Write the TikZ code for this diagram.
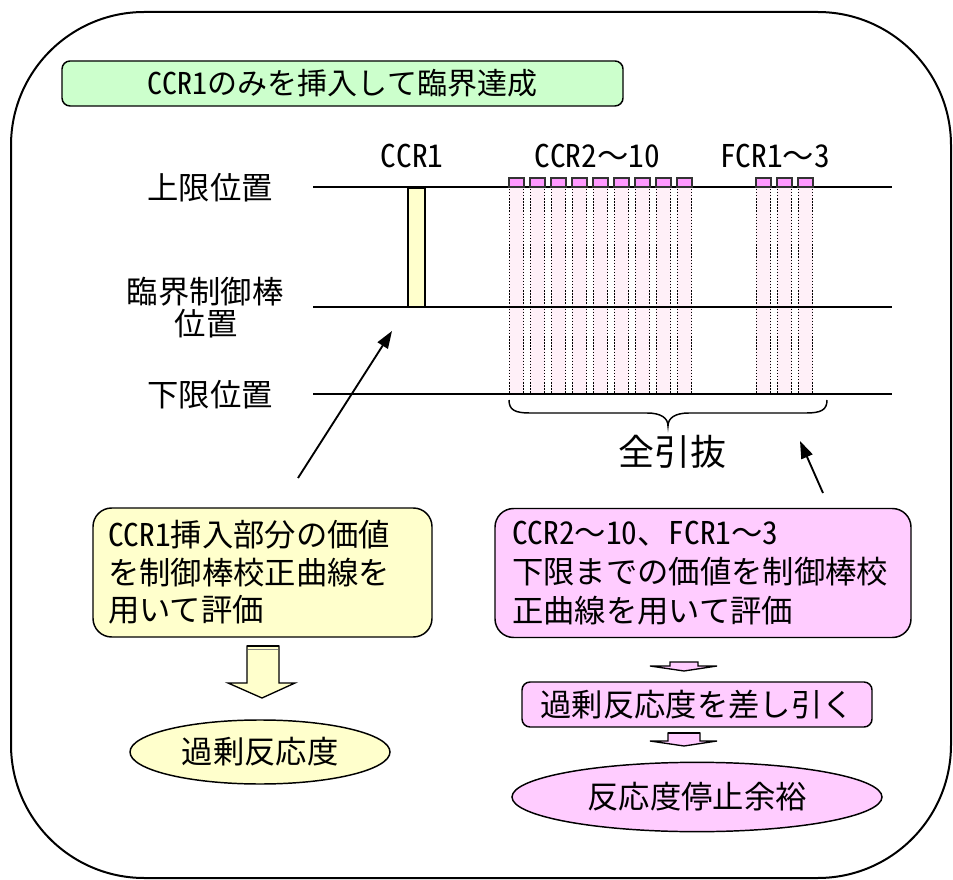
\documentclass[tikz,border=0pt]{standalone}
\usepackage{fontspec}
\setmainfont{Noto Sans CJK JP}
\newfontfamily\hwfont{Noto Sans CJK JP}[CharacterWidth=Half]
\newcommand\hwtxt[1]{{\hwfont #1}}
\usetikzlibrary{shapes.geometric,arrows.meta}
\definecolor{tgreen}{HTML}{CCFFCC}
\definecolor{lyellow}{HTML}{FFFFCC}
\definecolor{lpink}{HTML}{FFCCFF}
\definecolor{rodpink}{HTML}{FF99FF}
\definecolor{colpink}{HTML}{FFF0F8}
\tikzset{
  body/.style={font=\fontsize{23.5pt}{28pt}\selectfont},
  lbl/.style={body, inner sep=0pt},
  levelline/.style={line width=1.5pt},
  rbox/.style={draw=black, line width=1.1pt, rounded corners=14pt},
  ptr/.style={line width=1.4pt, -{Triangle[length=13pt,width=9pt]}},
  col/.style={fill=colpink, draw=none},
  dotln/.style={line width=1pt, dash pattern=on 1pt off 1.3pt},
  rodtop/.style={fill=rodpink, draw=black!80, line width=0.9pt},
  blockarrow/.style={draw=black, line width=1pt},
}
\begin{document}
\begin{tikzpicture}[x=0.75pt,y=-0.75pt]
\useasboundingbox (0,0) rectangle (953,880);
% outer frame
\draw[line width=1.5pt, rounded corners=100pt] (11,12) rectangle (951,878);

% title
\node[rbox, fill=tgreen, rounded corners=6pt, minimum width=420.75pt, minimum height=33.75pt,
      inner sep=0pt, font=\fontsize{22.5pt}{26pt}\selectfont] (title) at (342.5,83.5)
      {\hwtxt{CCR1}のみを挿入して臨界達成};

% level labels
\node[lbl] (up) at (210,188) {上限位置};
\node[lbl] (crit1) at (205,292) {臨界制御棒};
\node[lbl] (crit2) at (206,324) {位置};
\node[lbl] (low) at (210,395) {下限位置};

% rod labels
\node[lbl] (lccr1) at (412,156) {\hwtxt{CCR1}};
\node[lbl] (lccr2) at (597,156) {\hwtxt{CCR2}～\hwtxt{10}};
\node[lbl] (lfcr) at (775,156) {\hwtxt{FCR1}～\hwtxt{3}};

% pink columns (withdrawn rods)
\foreach \l in {509,530,551,572,593,614,635,656,677,756,777,798}{
  \fill[colpink] (\l,188) rectangle (\l+15,394);
}
\foreach \l in {509,530,551,572,593,614,635,656,677,756,777,798}{
  \draw[dotln] (\l+0.5,189) -- (\l+0.5,394);
  \draw[dotln] (\l+14.5,189) -- (\l+14.5,394);
}

% yellow CCR1 bar
\draw[fill=lyellow, line width=0.9pt] (408,188) rectangle (425,307);

% level lines
\coordinate (uL) at (313,187); \coordinate (uR) at (892,187);
\coordinate (cL) at (313,307); \coordinate (cR) at (892,307);
\coordinate (dL) at (313,394); \coordinate (dR) at (892,394);
\draw[levelline] (uL) -- (uR);
\draw[levelline] (cL) -- (cR);
\draw[levelline] (dL) -- (dR);

% rod tops
\foreach \l in {509,530,551,572,593,614,635,656,677,756,777,798}{
  \draw[rodtop] (\l,178) rectangle (\l+15,187);
}

% brace
\draw[line width=1.1pt] (509,400) .. controls (509,410) and (515,413) .. (530,413) -- (647,413)
  .. controls (661,413) and (668,418) .. (668,426)
  .. controls (668,418) and (675,413) .. (689,413) -- (806,413)
  .. controls (821,413) and (827,410) .. (827,400);
\node[inner sep=0pt, font=\fontsize{27pt}{30pt}\selectfont] (zen) at (672,452) {全引抜};

% left box
\node[rbox, fill=lyellow, minimum width=254.25pt, minimum height=96.75pt,
      text width=231.75pt, inner xsep=11.25pt, inner ysep=0pt, align=left, body] (ybox) at (262.5,572.5)
  {\hwtxt{CCR1}挿入部分の価値\\を制御棒校正曲線を\\用いて評価};

% right box
\node[rbox, fill=lpink, minimum width=312pt, minimum height=96.75pt,
      text width=286.5pt, inner xsep=12.75pt, inner ysep=0pt, align=left,
      font=\fontsize{23.5pt}{29pt}\selectfont] (pbox) at (703,573)
  {\hwtxt{CCR2}～\hwtxt{10}、\hwtxt{FCR1}～\hwtxt{3}\\下限までの価値を制御棒校\\正曲線を用いて評価};

% pointer arrows
\coordinate (p1s) at (298,478); \coordinate (p1e) at (392,331);
\draw[ptr] (p1s) -- (p1e);
\coordinate (p2s) at (823,493); \coordinate (p2e) at (800,441);
\draw[ptr] (p2s) -- (p2e);

% yellow block arrow
\draw[blockarrow, fill=lyellow] (247,646) -- (279,646) -- (279,683) -- (295,683) -- (262,698) -- (228,683) -- (247,683) -- cycle;
\draw[line width=2.2pt] (247,646) -- (279,646);
\draw[line width=0.6pt, black!50] (248,649) -- (278,649);

% excess reactivity ellipse
\node[ellipse, draw=black, line width=1.1pt, fill=lyellow, minimum width=195pt, minimum height=48pt,
      inner sep=0pt, body] (excess) at (260,752) {過剰反応度};

% pink small block arrow 1
\draw[blockarrow, fill=lpink] (670,662) -- (698,662) -- (698,666) -- (717,666) -- (684,671) -- (650,666) -- (670,666) -- cycle;

% subtract box
\node[rbox, fill=lpink, rounded corners=6pt, minimum width=262.5pt, minimum height=33.75pt,
      inner sep=0pt, body] (sub) at (697,704.5) {過剰反応度を差し引く};

% pink small block arrow 2
\draw[blockarrow, fill=lpink] (668,733) -- (700,733) -- (700,741) -- (717,741) -- (684,746) -- (650,741) -- (668,741) -- cycle;
\draw[line width=2pt] (668,733) -- (700,733);

% shutdown margin ellipse
\node[ellipse, draw=black, line width=1.1pt, fill=lpink, minimum width=277.5pt, minimum height=52pt,
      inner sep=0pt, body] (margin) at (697,797) {反応度停止余裕};
\end{tikzpicture}
\end{document}
